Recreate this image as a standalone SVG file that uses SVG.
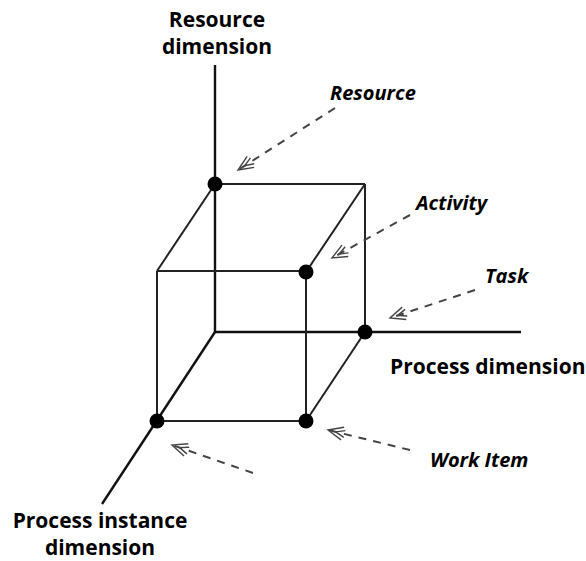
<svg xmlns="http://www.w3.org/2000/svg" width="586" height="561" viewBox="0 0 586 561">
<style>
.ax{stroke:#111;stroke-width:2.4;fill:none}
.ed{stroke:#222;stroke-width:2;fill:none}
.dot{fill:#000}
.da{stroke:#444;stroke-width:2;fill:none;stroke-dasharray:8,7}
.lbl{font-family:"Open Sans","Liberation Sans",sans-serif;font-weight:bold;font-size:21px;fill:#000}
.it{font-family:"Open Sans","Liberation Sans",sans-serif;font-weight:bold;font-style:italic;font-size:20px;fill:#000}
</style>
<defs>
<marker id="oa" viewBox="-20 -8 22 16" markerWidth="22" markerHeight="16" refX="0" refY="0" orient="auto" markerUnits="userSpaceOnUse">
<path d="M-15,-6.5 L0,0 L-15,6.5 M-17,-3.5 L-8,0 L-17,3.5" fill="none" stroke="#444" stroke-width="1.4"/>
</marker>
</defs>
<g id="axes">
<line class="ax" x1="215" y1="65" x2="215" y2="333"/>
<line class="ax" x1="214" y1="332" x2="521" y2="332"/>
<line class="ax" x1="215" y1="332" x2="102" y2="504"/>
</g>
<g id="cube">
<line class="ed" x1="215" y1="184" x2="365" y2="184"/>
<line class="ed" x1="365" y1="184" x2="365" y2="332"/>
<line class="ed" x1="215" y1="184" x2="157" y2="271"/>
<line class="ed" x1="365" y1="184" x2="306" y2="272"/>
<line class="ed" x1="365" y1="332" x2="306" y2="421"/>
<line class="ed" x1="157" y1="271" x2="306" y2="271"/>
<line class="ed" x1="157" y1="271" x2="157" y2="421"/>
<line class="ed" x1="306" y1="271" x2="306" y2="421"/>
<line class="ed" x1="157" y1="421" x2="306" y2="421"/>
</g>
<g id="resource-node"><circle class="dot" cx="215" cy="184" r="7.5"/></g>
<g id="activity-node"><circle class="dot" cx="306" cy="272" r="7.5"/></g>
<g id="task-node"><circle class="dot" cx="365" cy="332" r="7.5"/></g>
<g id="instance-node"><circle class="dot" cx="157" cy="421" r="7.5"/></g>
<g id="workitem-node"><circle class="dot" cx="306" cy="421" r="7.5"/></g>
<g id="connectors">
<line class="da" x1="335" y1="108" x2="238" y2="170" marker-end="url(#oa)"/>
<line class="da" x1="410" y1="215" x2="332" y2="258" marker-end="url(#oa)"/>
<line class="da" x1="475" y1="290" x2="390" y2="318" marker-end="url(#oa)"/>
<line class="da" x1="410" y1="450" x2="328" y2="430" marker-end="url(#oa)"/>
<line class="da" x1="253" y1="473" x2="172" y2="445" marker-end="url(#oa)"/>
</g>
<g id="labels">
<text class="lbl" x="217" y="27" text-anchor="middle">Resource</text>
<text class="lbl" x="217" y="54" text-anchor="middle">dimension</text>
<text class="it" x="330" y="100">Resource</text>
<text class="it" x="416" y="210">Activity</text>
<text class="it" x="485" y="283">Task</text>
<text class="lbl" x="390" y="374">Process dimension</text>
<text class="it" x="430" y="467">Work Item</text>
<text class="lbl" x="100" y="528" text-anchor="middle">Process instance</text>
<text class="lbl" x="100" y="555" text-anchor="middle">dimension</text>
</g>
</svg>
